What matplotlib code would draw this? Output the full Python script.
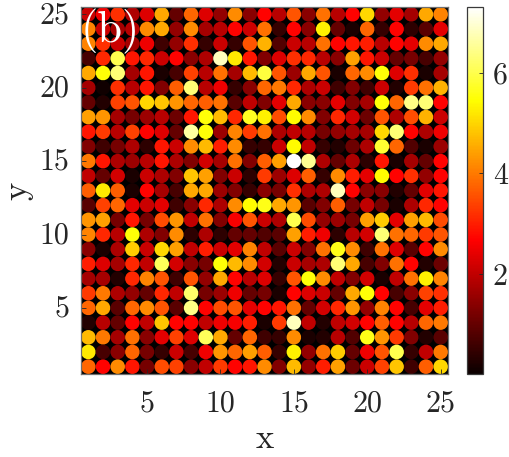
import numpy as np
import matplotlib
matplotlib.use("Agg")
import matplotlib.pyplot as plt
from matplotlib.transforms import ScaledTranslation

plt.rcParams["font.family"] = ["cmr10", "DejaVu Serif"]
plt.rcParams["axes.formatter.use_mathtext"] = True

x_coords = list(range(1, 26))
y_coords = list(range(25, 0, -1))
x_ticks = [5, 10, 15, 20, 25]
y_ticks = [5, 10, 15, 20, 25]
cbar_ticks = [2, 4, 6]

# Field amplitude per lattice site, rows from y=25 down to y=1
y25 = [2.1,2.5,3.2,1.8,2.3,4.5,1.0,3.8,2.3,1.5,4.2,1.4,2.7,1.9,3.6,1.4,3.9,1.9,2.7,5.0,1.5,2.4,1.7,4.5,4.1]
y24 = [4.1,2.1,1.7,1.9,4.2,4.5,1.5,4.2,1.7,1.9,2.7,2.1,3.9,0.5,2.7,1.4,5.3,1.0,0.2,3.8,0.5,2.7,0.4,0.9,2.4]
y23 = [4.1,3.2,2.1,1.7,2.5,0.6,1.5,3.2,0.5,2.1,0.5,3.6,4.6,0.8,2.1,1.9,3.9,2.7,2.9,3.0,1.9,2.7,2.4,4.2,4.5]
y22 = [0.7,3.1,6.0,2.9,3.1,2.1,2.7,1.4,1.8,6.8,5.2,2.9,1.3,2.3,3.2,3.1,1.9,1.4,4.4,2.9,2.1,1.0,1.2,0.7,1.5]
y21 = [4.5,5.5,6.3,1.7,2.9,0.2,0.7,3.4,1.9,3.9,1.7,4.7,5.9,3.6,1.6,4.5,3.6,0.2,3.8,4.2,5.5,2.3,3.2,0.2,1.7]
y20 = [1.7,0.1,3.2,1.9,2.9,1.3,3.7,6.3,1.9,2.5,0.5,1.4,3.8,4.0,3.1,1.8,2.1,0.6,1.3,0.6,2.1,0.3,3.3,3.9,4.6]
y19 = [1.0,0.3,3.4,3.6,5.0,4.8,4.3,3.8,3.7,3.9,0.9,2.0,1.3,2.4,4.5,1.4,1.4,2.4,1.3,1.7,5.5,3.8,6.4,6.3,2.7]
y18 = [4.4,4.3,1.7,1.2,1.6,1.9,1.1,2.9,5.5,4.7,3.1,5.7,5.3,3.5,5.4,4.2,1.3,3.1,2.2,1.1,3.6,1.8,3.5,4.6,2.1]
y17 = [2.9,3.3,1.9,3.4,2.7,2.3,1.0,6.6,5.5,1.6,4.1,3.3,3.9,1.8,2.0,1.9,1.2,1.5,1.7,1.7,5.0,6.3,2.7,1.8,2.5]
y16 = [1.3,0.6,1.2,1.8,0.4,2.9,2.1,4.2,4.7,3.0,4.2,0.5,0.5,2.1,5.4,2.0,0.5,0.3,1.1,1.8,5.8,3.8,0.8,0.2,1.6]
y15 = [4.0,2.9,1.8,1.6,1.9,2.9,1.8,1.3,2.2,1.7,3.9,1.3,3.7,4.4,7.3,6.5,1.8,1.0,1.8,0.4,2.9,0.2,1.7,1.0,2.7]
y14 = [2.0,1.0,2.2,0.2,2.1,1.8,1.3,4.8,4.4,1.3,2.1,0.4,3.3,1.6,2.3,3.7,0.5,4.2,3.0,2.4,5.4,2.7,3.2,1.5,2.7]
y13 = [3.7,5.2,3.7,0.2,2.7,1.7,0.7,4.5,4.5,1.6,1.3,0.5,1.4,1.2,3.2,1.8,1.8,6.8,2.7,1.4,1.4,0.3,1.0,2.4,2.9]
y12 = [0.9,3.4,3.8,2.4,2.1,2.4,0.6,1.4,3.1,1.8,4.2,5.4,5.6,4.5,4.3,0.9,1.3,3.7,1.2,2.0,1.2,0.2,1.8,3.1,2.7]
y11 = [4.3,4.4,1.2,2.9,1.2,3.5,4.3,2.0,3.9,1.3,2.6,3.6,2.1,1.8,6.0,3.5,1.5,1.6,1.2,4.4,4.9,2.4,4.4,4.7,3.5]
y10 = [4.1,3.1,1.9,5.5,1.8,1.3,4.2,0.4,1.8,0.4,1.0,1.0,0.8,0.9,4.4,3.0,2.5,0.4,1.9,2.2,6.3,3.9,3.8,3.3,3.6]
y09 = [1.4,0.2,1.8,4.9,2.1,5.0,4.4,2.0,3.0,2.1,2.4,4.1,2.0,0.9,2.1,1.3,3.9,5.6,4.2,0.6,3.9,2.3,0.9,2.7,4.2]
y08 = [3.0,2.3,1.7,3.1,2.0,6.1,2.2,1.4,1.2,5.5,4.7,4.2,2.2,0.3,2.1,1.7,1.8,6.3,4.5,0.7,1.3,3.9,2.7,0.3,1.1]
y07 = [1.7,1.7,0.3,3.1,4.1,3.6,0.6,3.6,1.5,4.5,2.7,1.9,2.3,0.5,3.6,5.5,4.2,2.0,1.3,2.2,0.2,2.0,3.9,5.3,4.1]
y06 = [3.3,4.0,1.8,1.5,1.0,3.1,2.0,6.2,1.2,1.6,2.5,1.0,1.2,0.2,2.7,2.3,2.1,1.0,4.5,5.5,2.7,0.7,1.4,3.4,3.2]
y05 = [3.8,4.5,0.9,3.8,4.2,3.6,0.9,6.4,2.7,3.5,3.6,2.4,2.7,2.9,3.9,1.0,2.2,3.1,4.3,1.5,4.1,2.7,0.7,2.4,3.0]
y04 = [0.3,1.9,1.0,2.7,2.0,4.8,2.7,2.7,2.0,2.5,2.6,3.0,0.2,3.3,6.8,2.0,0.3,2.0,2.2,2.7,3.7,2.7,1.9,3.8,4.0]
y03 = [4.7,4.0,1.7,3.9,1.4,2.4,3.4,2.3,6.1,4.5,1.0,3.8,0.6,0.5,4.2,0.2,0.3,1.9,0.8,5.6,4.3,3.3,1.3,0.3,0.9]
y02 = [5.2,0.7,1.4,3.8,1.2,0.5,2.1,0.7,2.5,4.3,3.8,4.4,3.7,0.5,5.3,1.5,3.9,4.9,1.0,2.5,3.6,6.0,0.5,2.0,4.0]
y01 = [3.8,2.7,4.2,2.9,1.2,3.5,3.4,1.4,2.0,3.3,2.7,2.9,4.2,1.3,4.7,1.5,3.0,4.4,1.1,2.1,3.4,4.8,0.6,3.7,5.0]

rows = [y25, y24, y23, y22, y21, y20, y19, y18, y17, y16, y15, y14, y13,
        y12, y11, y10, y09, y08, y07, y06, y05, y04, y03, y02, y01]
amplitude = np.array(rows)
grid_x, grid_y = np.meshgrid(x_coords, y_coords)

W, H = 509, 457
fig = plt.figure(figsize=(W / 100, H / 100), dpi=100, facecolor="white")


def pixel_axes(left, top, right, bottom):
    return fig.add_axes([left / W, 1 - bottom / H, (right - left) / W, (bottom - top) / H])


ax = pixel_axes(81, 7, 448, 374)
ax.set_facecolor("black")
sc = ax.scatter(grid_x.ravel(), grid_y.ravel(), c=amplitude.ravel(), s=110,
                cmap="hot", vmin=0.02, vmax=7.3, linewidths=0, clip_on=True)
ax.set_xlim(0.5, 25.5)
ax.set_ylim(0.5, 25.5)
ax.set_xticks(x_ticks)
ax.set_yticks(y_ticks)
ax.set_xticklabels([str(t) for t in x_ticks])
ax.set_yticklabels([str(t) for t in y_ticks])
ax.tick_params(direction="in", length=3.5, width=0.6, color="#262626",
               labelcolor="#262626", labelsize=21.5)
ax.tick_params(axis="x", pad=11.5)
ax.tick_params(axis="y", pad=8.5)

# Lift the y tick labels slightly so the numerals sit centred on their ticks
lift = ScaledTranslation(0, 0.02, fig.dpi_scale_trans)
for label in ax.get_yticklabels():
    label.set_transform(label.get_transform() + lift)

for spine in ax.spines.values():
    spine.set_color("#6e6e6e")
    spine.set_linewidth(0.9)
ax.set_xlabel("x", fontsize=25, color="#262626", labelpad=4)
ax.set_ylabel("y", fontsize=25, color="#262626", labelpad=4)
ax.text(0.0, 0.995, "(b)", transform=ax.transAxes, color="white", fontsize=32,
        ha="left", va="top")

cax = pixel_axes(467, 7, 483, 374)
cbar = fig.colorbar(sc, cax=cax)
cbar.set_ticks(cbar_ticks)
cbar.set_ticklabels([str(t) for t in cbar_ticks])
cbar.ax.tick_params(direction="in", length=3, width=0.6, color="#262626",
                    labelcolor="#262626", labelsize=21.5, pad=7)
cbar.outline.set_edgecolor("#3a3a3a")
cbar.outline.set_linewidth(0.9)

fig.savefig("out.png", dpi=100)
